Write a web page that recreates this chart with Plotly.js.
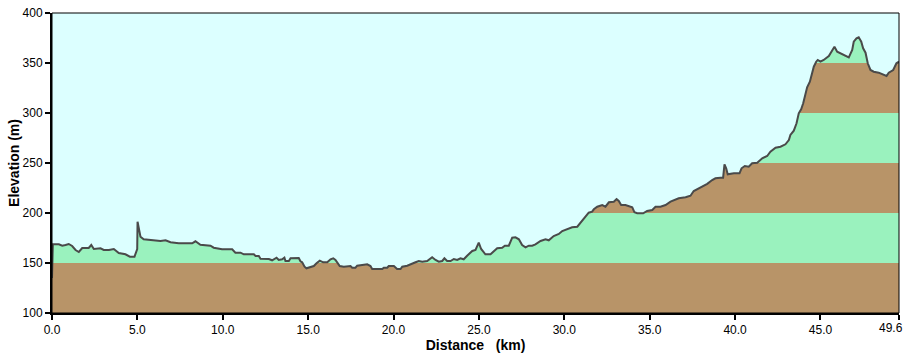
<!DOCTYPE html>
<html>
<head>
<meta charset="utf-8">
<script src="https://cdn.plot.ly/plotly-3.0.1.min.js"></script>
<style>html,body{margin:0;padding:0;background:#fff;}#chart{width:903px;height:358px;}</style>
</head>
<body>
<div id="chart"></div>
<script>
// Distance (km)
const distanceKm = [
0.00,0.05,0.40,0.60,0.79,0.98,1.18,1.38,1.57,1.77,2.15,2.30,2.45,2.84,3.03,3.33,3.62,3.91,4.30,4.56,4.83,4.99,5.01,5.08,5.18,5.37,5.96,6.35,6.65,6.94,7.42,8.21,8.40,8.69,9.28,9.47,9.96,10.55,10.74,
11.04,11.23,11.82,11.92,12.11,12.21,12.70,12.89,12.99,13.15,13.28,13.48,13.61,13.67,13.87,13.97,14.45,14.55,14.65,14.79,14.90,15.14,15.33,15.49,15.68,15.88,16.12,16.31,16.47,16.60,16.74,16.85,17.09,17.38,17.48,17.58,17.77,17.87,18.07,18.46,18.65,18.75,19.34,19.43,19.63,19.72,20.02,20.11,20.21,20.41,20.51,20.80,21.09,21.29,21.48,21.68,21.97,22.16,22.26,22.46,22.65,22.85,22.98,23.14,23.34,23.53,23.73,23.92,24.11,24.31,24.61,24.80,24.99,25.13,25.38,25.68,26.07,26.36,26.52,26.75,26.95,27.14,27.34,27.53,27.73,27.92,28.12,28.31,28.61,28.90,29.09,29.38,29.68,29.88,30.17,30.46,30.76,30.95,31.20,31.43,31.63,31.73,31.93,32.22,32.41,32.61,32.90,33.06,33.19,33.33,33.58,33.78,33.98,34.11,34.27,34.62,34.85,35.15,35.34,35.63,35.93,36.22,36.51,36.70,37.10,37.39,37.58,37.88,38.07,38.37,38.66,38.85,39.14,39.30,39.38,39.48,39.57,39.93,40.26,40.38,40.57,40.80,41.00,41.30,41.59,41.88,42.07,42.37,42.66,42.95,43.15,43.24,43.44,43.60,43.73,43.87,43.99,44.08,44.22,44.38,44.48,44.61,44.75,44.84,45.00,45.19,45.49,45.69,45.82,45.98,46.17,46.42,46.66,46.86,46.95,47.11,47.24,47.39,47.50,47.64,47.77,47.93,48.12,48.41,48.71,48.87,49.00,49.26,49.45,49.60
];
// Elevation (m)
const elevationM = [
135,168.7,168.7,167.3,168,169,167,163,161,165,165,168,164,164.7,163,163,164,160,158.7,156.3,156.3,164,191.3,184.7,176.3,173.7,173,172,172.7,170.7,169.7,169.7,171.7,168.3,167.3,165.3,163.7,163.7,160.3,
160.3,158.7,158.7,157,157,154.3,154,152.7,153.7,155.3,153,153.7,155.3,152,152,154.7,155,151.7,150.7,146.3,144.7,146.3,147,149.7,152.3,150.7,150.7,153.7,154.7,153,149,147,146.3,146.3,147,145.3,145.3,147.3,148,148.7,147,144,144,145.3,145.3,147,147,145.3,144,144,146.3,147.3,149.7,150.7,152,151.3,152,154.7,155.7,153,151.3,152,154.7,152,152,154,153,154.7,153.7,157.3,162,163,170.3,164,158.7,158.7,164.7,165.3,167.3,167.3,175.3,175.7,173.7,168,165.7,167.3,167.3,168.7,172,173.7,172.7,177,179,182,184,185.7,186.3,190.3,194.7,200.3,201.3,203.7,206.3,208,206.3,210.7,211.3,214,212,208,208,207,205.7,200.7,199.7,199.7,202,203,206.3,206.3,208,211.3,213,214.7,215.7,217.3,222,224.7,227,229.2,233,234.7,235.3,235.3,248.7,244.7,238.7,239.7,239.7,244.7,247,246.3,249.7,250.3,254.7,257,261.3,265.3,266.3,268.7,273,278,282.3,289.7,299.7,303.7,309.7,315.3,325.7,331.3,338,346.3,351.3,353,351.3,353,357,363,366.3,361.3,359.7,358,355.7,363,371.3,374.7,375.7,371.3,364.7,360.3,349.7,343,341.3,340.3,338,337,340.3,343,349.7,351.3
];
const xTickVals = [0,5,10,15,20,25,30,35,40,45,49.6];
const xTickText = ["0.0","5.0","10.0","15.0","20.0","25.0","30.0","35.0","40.0","45.0","49.6"];
const yTickVals = [100,150,200,250,300,350,400];
const bandEdges = [100,150,200,250,300,350,400];

const BROWN = "#B89468", GREEN = "#9AF2BE", SKY = "#DCFFFF";
const xMax = 49.6, yMin = 100, yMax = 400;

const shapes = [];
for (let i = 0; i < bandEdges.length - 1; i++) {
  shapes.push({type:"rect", xref:"x", yref:"y", x0:0, x1:xMax, y0:bandEdges[i], y1:bandEdges[i+1],
    fillcolor: i % 2 === 0 ? BROWN : GREEN, line:{width:0}, layer:"below"});
}
shapes.push({type:"rect", xref:"paper", yref:"paper", x0:0, x1:1, y0:0, y1:1, line:{color:"#000", width:1}, layer:"above"});

const traces = [
  {x:distanceKm, y:elevationM, type:"scatter", mode:"lines", line:{color:"rgba(0,0,0,0)", width:0}, hoverinfo:"skip", showlegend:false},
  {x:distanceKm, y:distanceKm.map(()=>yMax), type:"scatter", mode:"lines", fill:"tonexty", fillcolor:SKY, line:{width:0, color:SKY}, hoverinfo:"skip", showlegend:false},
  {x:distanceKm, y:elevationM, type:"scatter", mode:"lines", line:{color:"#4a4a4a", width:2}, showlegend:false}
];

// the last label is drawn as an annotation anchored to its right edge so it stays inside the page
const lastIdx = xTickText.length - 1;
const xTickTextShown = xTickText.map((t, i) => i === lastIdx ? "" : t);

const tickFont = {family:"Liberation Sans, Arial, sans-serif", size:12, color:"#000"};
const layout = {
  width:903, height:358,
  margin:{l:52, r:4, t:13, b:45, pad:0},
  paper_bgcolor:"#fff", plot_bgcolor:SKY,
  showlegend:false,
  shapes: shapes,
  annotations:[{x:xTickVals[lastIdx], xref:"x", y:0, yref:"paper", text:xTickText[lastIdx], showarrow:false,
    xanchor:"center", xshift:-8, yanchor:"top", yshift:-6, font:tickFont}],
  xaxis:{range:[0,xMax], tickvals:xTickVals, ticktext:xTickTextShown, ticks:"outside", ticklen:5, tickwidth:2, tickcolor:"#000",
    showline:true, linecolor:"#000", linewidth:2, showgrid:false, zeroline:false, tickfont:tickFont,
    title:{text:"Distance\u00A0\u00A0\u00A0(km)", font:{family:"Liberation Sans, Arial, sans-serif", size:14, color:"#000", weight:"bold"}, standoff:4}},
  yaxis:{range:[yMin,yMax], tickvals:yTickVals, ticks:"outside", ticklen:5, tickwidth:2, tickcolor:"#000",
    showline:true, linecolor:"#000", linewidth:2, showgrid:false, zeroline:false, tickfont:tickFont,
    title:{text:"Elevation (m)", font:{family:"Liberation Sans, Arial, sans-serif", size:14, color:"#000", weight:"bold"}, standoff:0}}
};
Plotly.newPlot("chart", traces, layout, {staticPlot:true, displayModeBar:false});
</script>
</body>
</html>
